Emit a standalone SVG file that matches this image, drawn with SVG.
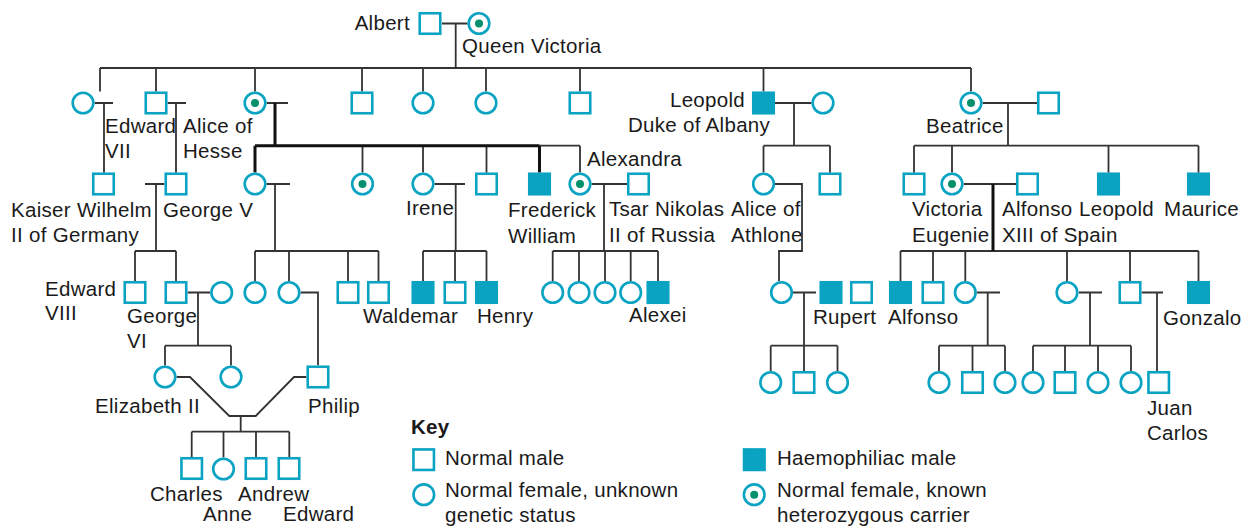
<svg xmlns="http://www.w3.org/2000/svg" width="1242" height="528" viewBox="0 0 1242 528">
<style>
.m{fill:#fff;stroke:#0aa3c2;stroke-width:2.6}
.h{fill:#0aa3c2;stroke:#0aa3c2;stroke-width:2.6}
.f{fill:#fff;stroke:#0aa3c2;stroke-width:2.6}
.d{fill:#07906c}
.ln{fill:none;stroke:#333;stroke-width:1.8}
.tk{fill:none;stroke:#111;stroke-width:3}
text{font-family:"Liberation Sans",Arial,Helvetica,sans-serif;font-size:20.5px;letter-spacing:0.3px;fill:#1a1a1a}
.b{font-weight:bold}
</style>
<defs>
<rect id="M" class="m" x="-10.25" y="-10.25" width="20.5" height="20.5"/>
<rect id="H" class="h" x="-10.25" y="-10.25" width="20.5" height="20.5"/>
<circle id="F" class="f" r="10.3"/>
<g id="C"><circle class="f" r="10.3"/><circle class="d" r="4"/></g>
</defs>
<g id="connectors">
<path class="ln" d="M442 23.5H467.5M455.7 23.5V68M100 68H971M100 68V91.5M156 68V91.5M255 68V91.5M362 68V91.5M423 68V91.5M486 68V91.5M580 68V91.5M763.5 68V91.5M971 68V91.5
M94.6 103H113M104 103V172.8M167.6 103H186M176 103V172.8M266.6 103H288
M775 103H811.4M794 103V145.7M763.5 145.7H830M763.5 145.7V172.4M830 145.7V172.8
M982.6 103H1037M1008 103V145.7M914 145.7H1198.5M914 145.7V172.8M952 145.7V172.4M1108.5 145.7V172.8M1198.5 145.7V172.8
M362.5 145.7V172.4M423 145.7V172.4M486.5 145.7V172.8M580 145.7V172.4M539.5 145.7H580
M145 184H164.4M156 184V251M135 251H176M135 251V281M176 251V281
M266.6 184H290M275 184V251M255 251H378.5M255 251V281M289 251V281M348 251V281M378.5 251V281
M434.6 184H465M455.7 184V251M423 251H486.5M423 251V281M455 251V281M486.5 251V281
M591.6 184H627.5M604 184V251M552.7 251H658M552.7 251V281M579 251V281M605 251V281M630.7 251V281M658 251V281
M775 184H802V251H779V281
M963.6 184H1016M900.5 251H1198.5M900.5 251V281M933 251V281M965.3 251V281M1067 251V281M1130 251V281M1198.5 251V281
M187.6 292.5H210M198 292.5V345.7M165 345.7H231M165 345.7V365.4M231 345.7V365.4
M300.6 292.5H318V365.3
M793 292.5H816M804 292.5V345.7M770.7 345.7H837.5M770.7 345.7V371M804 345.7V371M837.5 345.7V371
M977 292.5H1000M987.7 292.5V345.7M939 345.7H1005M939 345.7V371M972.5 345.7V371M1005 345.7V371
M1079 292.5H1102M1090 292.5V345.7M1033 345.7H1131M1033 345.7V371M1065 345.7V371M1098 345.7V371M1131 345.7V371
M1141.6 292.5H1163M1157 292.5V371
M176.6 377H190L229.3 416H255.7L294 377H306.4M240.7 416V431.7M191.7 431.7H289.3M191.7 431.7V457M223.5 431.7V457.4M256 431.7V457M289.3 431.7V457"/>
<path class="tk" d="M275 103V145.7M255 145.7H539.5M255 145.7V172.5M539.5 145.7V172.5M993 184V251"/>
</g>
<g id="albert"><use href="#M" x="430" y="23.5"/><text x="410" y="30" text-anchor="end">Albert</text></g>
<g id="victoria"><use href="#C" x="479" y="23.5"/><text x="462" y="53">Queen Victoria</text></g>
<g id="victoria-princess"><use href="#F" x="83" y="103"/></g>
<g id="edward7"><use href="#M" x="156" y="103"/><text x="105" y="133">Edward</text><text x="105" y="158">VII</text></g>
<g id="alice-hesse"><use href="#C" x="255" y="103"/><text x="183" y="133">Alice of</text><text x="183" y="158">Hesse</text></g>
<g id="alfred"><use href="#M" x="362" y="103"/></g>
<g id="helena"><use href="#F" x="423" y="103"/></g>
<g id="louise"><use href="#F" x="486" y="103"/></g>
<g id="arthur"><use href="#M" x="580" y="103"/></g>
<g id="leopold-albany"><use href="#H" x="763.5" y="103"/><text x="745" y="107" text-anchor="end">Leopold</text><text x="628" y="132">Duke of Albany</text></g>
<g id="helena-waldeck"><use href="#F" x="823" y="103"/></g>
<g id="beatrice"><use href="#C" x="971" y="103"/><text x="926" y="133">Beatrice</text></g>
<g id="henry-battenberg"><use href="#M" x="1048.5" y="103"/></g>
<g id="kaiser"><use href="#M" x="103.5" y="184"/><text x="11" y="217">Kaiser Wilhelm</text><text x="11" y="242">II of Germany</text></g>
<g id="george5"><use href="#M" x="176" y="184"/><text x="163" y="217">George V</text></g>
<g id="victoria-hesse"><use href="#F" x="255" y="184"/></g>
<g id="elisabeth-hesse"><use href="#C" x="362.5" y="184"/></g>
<g id="irene"><use href="#F" x="423" y="184"/><text x="406" y="215">Irene</text></g>
<g id="ernst"><use href="#M" x="486.5" y="184"/></g>
<g id="frederick"><use href="#H" x="539.5" y="184"/><text x="508" y="217">Frederick</text><text x="508" y="243">William</text></g>
<g id="alexandra"><use href="#C" x="580" y="184"/><text x="587" y="166">Alexandra</text></g>
<g id="tsar"><use href="#M" x="638.5" y="184"/><text x="609" y="216">Tsar Nikolas</text><text x="609" y="242">II of Russia</text></g>
<g id="alice-athlone"><use href="#F" x="763.5" y="184"/><text x="731" y="216">Alice of</text><text x="731" y="242">Athlone</text></g>
<g id="charles-edward"><use href="#M" x="830" y="184"/></g>
<g id="alexander"><use href="#M" x="914" y="184"/></g>
<g id="victoria-eugenie"><use href="#C" x="952" y="184"/><text x="912" y="216">Victoria</text><text x="912" y="242">Eugenie</text></g>
<g id="alfonso13"><use href="#M" x="1027.5" y="184"/><text x="1002" y="216">Alfonso</text><text x="1002" y="242">XIII of Spain</text></g>
<g id="leopold-b"><use href="#H" x="1108.5" y="184"/><text x="1079" y="216">Leopold</text></g>
<g id="maurice"><use href="#H" x="1198.5" y="184"/><text x="1164" y="216">Maurice</text></g>
<g id="edward8"><use href="#M" x="135" y="292.5"/><text x="45" y="296">Edward</text><text x="45" y="320">VIII</text></g>
<g id="george6"><use href="#M" x="176" y="292.5"/><text x="127" y="323">George</text><text x="127" y="348">VI</text></g>
<g id="elizabeth-qm"><use href="#F" x="221.7" y="292.5"/></g>
<g id="alice-b"><use href="#F" x="255" y="292.5"/></g>
<g id="philip-mother"><use href="#F" x="289" y="292.5"/></g>
<g id="george-b"><use href="#M" x="348" y="292.5"/></g>
<g id="louis-b"><use href="#M" x="378.5" y="292.5"/></g>
<g id="waldemar"><use href="#H" x="423" y="292.5"/><text x="363" y="323">Waldemar</text></g>
<g id="sigismund"><use href="#M" x="455" y="292.5"/></g>
<g id="henry"><use href="#H" x="486.5" y="292.5"/><text x="477" y="323">Henry</text></g>
<g id="olga"><use href="#F" x="552.7" y="292.5"/></g>
<g id="tatiana"><use href="#F" x="579" y="292.5"/></g>
<g id="maria"><use href="#F" x="605" y="292.5"/></g>
<g id="anastasia"><use href="#F" x="630.7" y="292.5"/></g>
<g id="alexei"><use href="#H" x="658" y="292.5"/><text x="629" y="322">Alexei</text></g>
<g id="may"><use href="#F" x="781.5" y="292.5"/></g>
<g id="rupert"><use href="#H" x="831" y="292.5"/><text x="813" y="324">Rupert</text></g>
<g id="maurice-t"><use href="#M" x="861.5" y="292.5"/></g>
<g id="alfonso"><use href="#H" x="900.5" y="292.5"/><text x="888" y="324">Alfonso</text></g>
<g id="jaime"><use href="#M" x="933" y="292.5"/></g>
<g id="beatriz"><use href="#F" x="965.3" y="292.5"/></g>
<g id="maria-cristina"><use href="#F" x="1067" y="292.5"/></g>
<g id="juan"><use href="#M" x="1130" y="292.5"/></g>
<g id="gonzalo"><use href="#H" x="1198.5" y="292.5"/><text x="1163" y="325">Gonzalo</text></g>
<g id="elizabeth2"><use href="#F" x="165" y="377"/><text x="95" y="413">Elizabeth II</text></g>
<g id="margaret"><use href="#F" x="231" y="377"/></g>
<g id="philip"><use href="#M" x="318" y="377"/><text x="308" y="413">Philip</text></g>
<g id="charles"><use href="#M" x="191.7" y="468.5"/><text x="150" y="501">Charles</text></g>
<g id="anne"><use href="#F" x="223.5" y="469"/><text x="203" y="521">Anne</text></g>
<g id="andrew"><use href="#M" x="256" y="468.5"/><text x="238" y="501">Andrew</text></g>
<g id="edward"><use href="#M" x="289" y="468.5"/><text x="283" y="521">Edward</text></g>
<g id="r4a"><use href="#F" x="770.7" y="382.5"/></g>
<g id="r4b"><use href="#M" x="804" y="382.5"/></g>
<g id="r4c"><use href="#F" x="837.5" y="382.5"/></g>
<g id="r4d"><use href="#F" x="939" y="382.5"/></g>
<g id="r4e"><use href="#M" x="972.5" y="382.5"/></g>
<g id="r4f"><use href="#F" x="1005" y="382.5"/></g>
<g id="r4g"><use href="#F" x="1033" y="382.5"/></g>
<g id="r4h"><use href="#M" x="1065" y="382.5"/></g>
<g id="r4i"><use href="#F" x="1098" y="382.5"/></g>
<g id="r4j"><use href="#F" x="1131" y="382.5"/></g>
<g id="juan-carlos"><use href="#M" x="1158.7" y="382.5"/><text x="1147" y="415">Juan</text><text x="1147" y="440">Carlos</text></g>
<g id="key">
<text class="b" x="411" y="434">Key</text>
<use href="#M" x="423.7" y="459.7"/><text x="445" y="465">Normal male</text>
<use href="#F" x="423.8" y="494.7"/><text x="445" y="497">Normal female, unknown</text><text x="445" y="522">genetic status</text>
<use href="#H" x="754.3" y="459.7"/><text x="777" y="465">Haemophiliac male</text>
<use href="#C" x="754.2" y="494.7"/><text x="777" y="497">Normal female, known</text><text x="777" y="522">heterozygous carrier</text>
</g>
</svg>
